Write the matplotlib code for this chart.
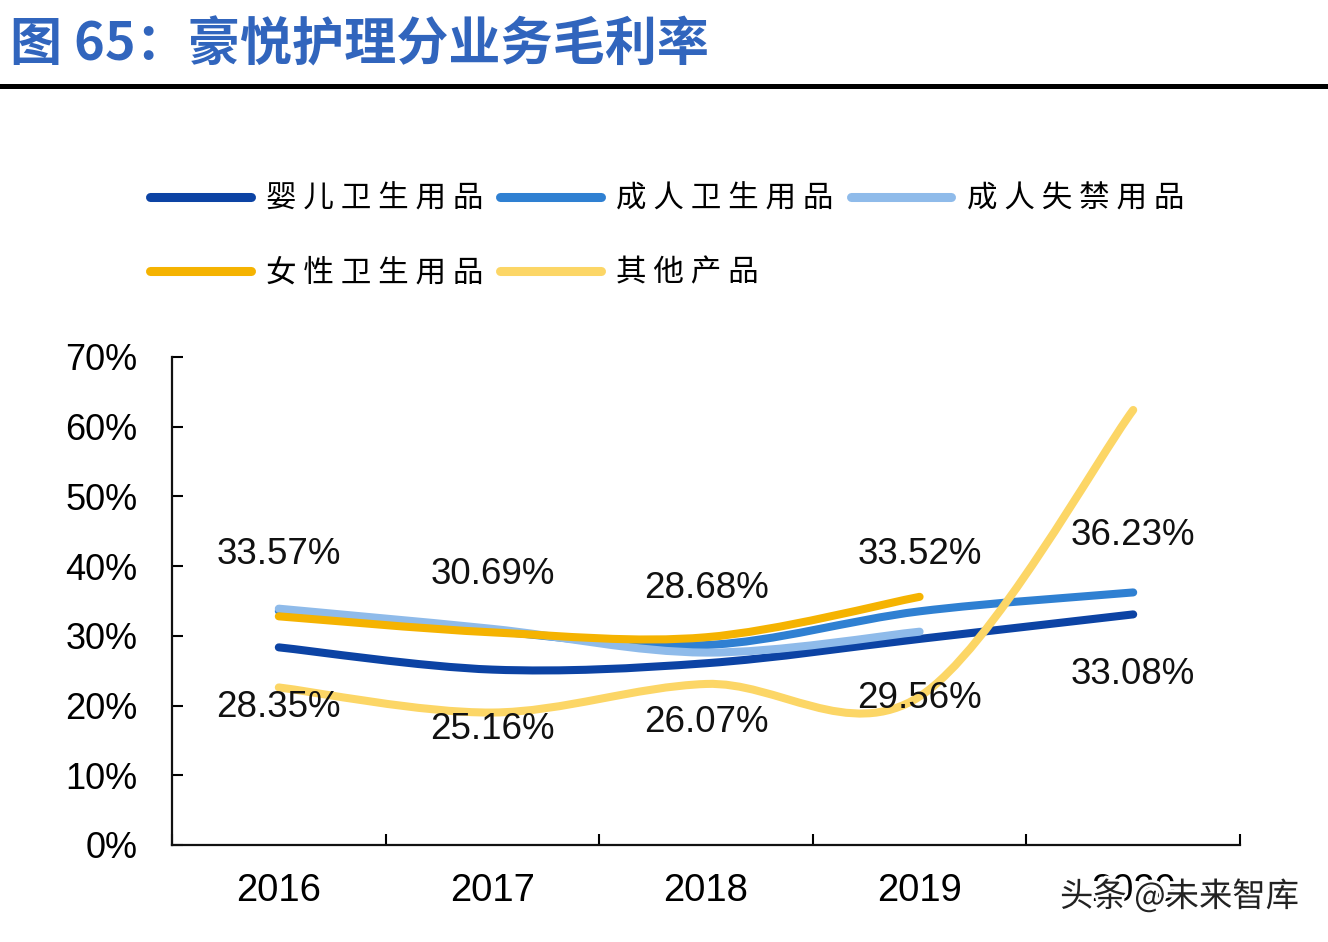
import matplotlib
matplotlib.use("Agg")
import matplotlib.pyplot as plt
import matplotlib.patheffects as pe
from matplotlib.path import Path
from matplotlib.patches import PathPatch
from matplotlib.lines import Line2D

plt.rcParams['font.family'] = ['Liberation Sans', 'Noto Sans CJK SC', 'DejaVu Sans']

years = ["2016", "2017", "2018", "2019", "2020"]
yticks = [0, 10, 20, 30, 40, 50, 60, 70]

baby = [28.35, 25.16, 26.07, 29.56, 33.08]        # 婴儿卫生用品
adult = [33.57, 30.69, 28.68, 33.52, 36.23]       # 成人卫生用品
incont = [33.9, 31.0, 27.6, 30.6]                 # 成人失禁用品 (to 2019)
female = [32.8, 30.5, 29.8, 35.6]                 # 女性卫生用品 (to 2019)
other = [22.6, 19.0, 23.1, 21.3, 62.4]            # 其他产品

names = ["婴儿卫生用品", "成人卫生用品", "成人失禁用品", "女性卫生用品", "其他产品"]
colors = ["#0c43a4", "#2f80d2", "#8fbbea", "#f5b301", "#fcd666"]
series = [baby, adult, incont, female, other]


def smooth_path(xs, ys):
    # Catmull-Rom through the points, written as cubic Bezier segments
    pts = list(zip(xs, ys))
    verts = [pts[0]]
    codes = [Path.MOVETO]
    for i in range(len(pts) - 1):
        p0 = pts[i - 1] if i > 0 else pts[i]
        p1 = pts[i]
        p2 = pts[i + 1]
        p3 = pts[i + 2] if i + 2 < len(pts) else pts[i + 1]
        c1 = (p1[0] + (p2[0] - p0[0]) / 6, p1[1] + (p2[1] - p0[1]) / 6)
        c2 = (p2[0] - (p3[0] - p1[0]) / 6, p2[1] - (p3[1] - p1[1]) / 6)
        verts += [c1, c2, p2]
        codes += [Path.CURVE4] * 3
    return Path(verts, codes)


fig = plt.figure(figsize=(13.28, 9.42), dpi=100)
ax = fig.add_axes([172 / 1328, 1 - 845 / 942, (1240 - 172) / 1328, (845 - 357) / 942])

handles = []
for vals, c, n in zip(series, colors, names):
    xs = list(range(len(vals)))
    patch = PathPatch(smooth_path(xs, vals), fill=False, edgecolor=c, lw=5.8,
                      capstyle='round', joinstyle='round')
    ax.add_patch(patch)
    handles.append(Line2D([], [], color=c, lw=6.5, solid_capstyle='round',
                          label=" ".join(n)))

for i, v in enumerate(adult):
    ax.annotate(f"{v:.2f}%", (i, v), xytext=(0, 41), textcoords='offset points',
                ha='center', va='center', fontsize=26.5, color='#111111')
for i, v in enumerate(baby):
    ax.annotate(f"{v:.2f}%", (i, v), xytext=(0, -43), textcoords='offset points',
                ha='center', va='center', fontsize=26.5, color='#111111')

ax.set_xlim(-0.5, 4.5)
ax.set_ylim(0, 70)
ax.set_yticks(yticks)
ax.set_yticklabels([f"{t}%" for t in yticks])
ax.set_xticks(range(len(years)))
ax.set_xticklabels(years)
ax.set_xticks([i - 0.5 for i in range(len(years) + 1)], minor=True)
ax.tick_params(axis='x', which='major', length=0, pad=20, labelsize=27.5)
ax.tick_params(axis='x', which='minor', direction='in', length=8, width=1.5)
ax.tick_params(axis='y', direction='in', length=8, width=1.5, pad=25, labelsize=26)
for s in ['top', 'right']:
    ax.spines[s].set_visible(False)
for s in ['left', 'bottom']:
    ax.spines[s].set_linewidth(1.6)
    ax.spines[s].set_color('#111111')

order = [0, 3, 1, 4, 2]
fig.legend([handles[i] for i in order], [handles[i].get_label() for i in order],
           loc='upper left', bbox_to_anchor=(150 / 1328, 1 - 184 / 942), ncol=3,
           frameon=False, handlelength=3.3, handletextpad=0.5,
           columnspacing=0.55, labelspacing=1.4, borderaxespad=0, borderpad=0,
           prop={'family': ['Noto Sans CJK SC', 'DejaVu Sans'], 'size': 22})

fig.text(10 / 1328, 1 - 45 / 942, "图 65：豪悦护理分业务毛利率", fontsize=37.5,
         fontweight='bold', color='#3165bd', va='center', ha='left',
         family=['Noto Sans CJK SC', 'DejaVu Sans'])
fig.add_artist(Line2D([0, 1], [1 - 86 / 942, 1 - 86 / 942], transform=fig.transFigure,
                      color='black', lw=3.6))

fig.text(1060 / 1328, 1 - 897 / 942, "头条 @未来智库", fontsize=24, color='#222222',
         va='center', ha='left', family=['Noto Sans CJK SC', 'DejaVu Sans'],
         path_effects=[pe.withStroke(linewidth=4, foreground='white')])

fig.savefig("out.png", dpi=100)
